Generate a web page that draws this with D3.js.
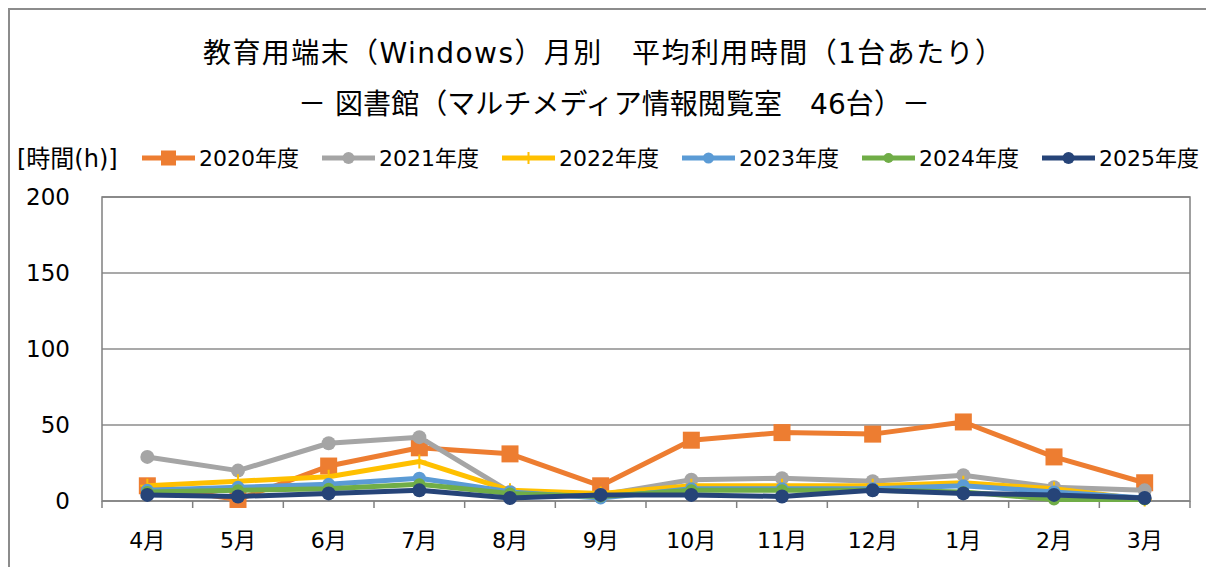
<!DOCTYPE html>
<html><head><meta charset="utf-8">
<script src="https://cdn.jsdelivr.net/npm/d3@7"></script>
<style>
html,body{margin:0;padding:0;background:#fff;}
svg{display:block;}
text{font-family:"DejaVu Sans","Noto Sans CJK JP",sans-serif;fill:#000;}
</style></head>
<body>
<script>
const months = ["4月","5月","6月","7月","8月","9月","10月","11月","12月","1月","2月","3月"];
const seriesNames = ["2020年度","2021年度","2022年度","2023年度","2024年度","2025年度"];
const v2020 = [10, 1, 23, 35, 31, 10, 40, 45, 44, 52, 29, 12];
const v2021 = [29, 20, 38, 42, 6, 4, 14, 15, 13, 17, 9, 7];
const v2022 = [10, 13, 16, 26, 7, 5, 10, 10, 10, 12, 8, 1];
const v2023 = [7, 9, 11, 15, 6, 2, 8, 8, 8, 10, 6, 2];
const v2024 = [6, 7, 8, 11, 5, 3, 7, 7, 7, 6, 1, 1];
const v2025 = [4, 3, 5, 7, 2, 4, 4, 3, 7, 5, 4, 2];
const yTicks = [0, 50, 100, 150, 200];
const titleLine1 = "教育用端末（Windows）月別　平均利用時間（1台あたり）";
const titleLine2 = "－ 図書館（マルチメディア情報閲覧室　46台）－";
const yUnit = "[時間(h)]";

const colors = ["#ED7D31","#A5A5A5","#FFC000","#5B9BD5","#70AD47","#264478"];
const markers = ["square","circle","plus","circle","circle","circle"];
const allValues = [v2020, v2021, v2022, v2023, v2024, v2025];

const W = 1206, H = 567;
const svg = d3.select("body").append("svg").attr("width", W).attr("height", H);

// outer frame
svg.append("rect").attr("x", 9).attr("y", 9).attr("width", W + 20).attr("height", H + 20)
  .attr("fill", "none").attr("stroke", "#8c8c8c").attr("stroke-width", 2);

const plot = {left: 102, right: 1190, top: 197, bottom: 501};
const x = d3.scaleBand().domain(months).range([plot.left, plot.right]).padding(0);
const y = d3.scaleLinear().domain([0, 200]).range([plot.bottom, plot.top]);

// gridlines
svg.append("g").selectAll("line").data(yTicks).join("line")
  .attr("x1", plot.left).attr("x2", plot.right)
  .attr("y1", d => y(d)).attr("y2", d => y(d))
  .attr("stroke", "#8c8c8c").attr("stroke-width", 1.5);

// plot border
svg.append("rect").attr("x", plot.left).attr("y", plot.top)
  .attr("width", plot.right - plot.left).attr("height", plot.bottom - plot.top)
  .attr("fill", "none").attr("stroke", "#808080").attr("stroke-width", 1.5);

// x ticks at category boundaries
const bounds = months.map(m => x(m)).concat([plot.right]);
svg.append("g").selectAll("line").data(bounds).join("line")
  .attr("x1", d => d).attr("x2", d => d)
  .attr("y1", plot.bottom).attr("y2", plot.bottom + 7)
  .attr("stroke", "#808080").attr("stroke-width", 1.5);

// y labels
svg.append("g").selectAll("text").data(yTicks).join("text")
  .attr("x", 70).attr("y", d => y(d)).attr("dy", "0.36em")
  .attr("text-anchor", "end").attr("font-size", 23).text(d => d);

// x labels
svg.append("g").selectAll("text").data(months).join("text")
  .attr("x", d => x(d) + x.bandwidth() / 2).attr("y", 540).attr("dy", "0.36em")
  .attr("text-anchor", "middle").attr("font-size", 22).text(d => d);

// titles
svg.append("text").attr("x", 203).attr("y", 53).attr("dy", "0.36em")
  .attr("font-size", 28).attr("textLength", 800).attr("lengthAdjust", "spacing").text(titleLine1);
svg.append("text").attr("x", 298).attr("y", 104).attr("dy", "0.36em")
  .attr("font-size", 28).attr("textLength", 632).attr("lengthAdjust", "spacing").text(titleLine2);

// unit label
svg.append("text").attr("x", 17).attr("y", 158).attr("dy", "0.36em")
  .attr("font-size", 24).text(yUnit);

function drawMarker(g, type, cx, cy, color, size) {
  if (type === "square") {
    g.append("rect").attr("x", cx - size / 2).attr("y", cy - size / 2)
      .attr("width", size).attr("height", size).attr("fill", color);
  } else if (type === "circle") {
    g.append("circle").attr("cx", cx).attr("cy", cy).attr("r", size / 2).attr("fill", color);
  } else if (type === "plus") {
    g.append("path").attr("d", `M${cx - size/2},${cy}H${cx + size/2}M${cx},${cy - size/2}V${cy + size/2}`)
      .attr("stroke", color).attr("stroke-width", 2);
  }
}
const markerSizes = [17, 14, 14, 13, 12, 14];

// series
const line = d3.line().x((d, i) => x(months[i]) + x.bandwidth() / 2).y(d => y(d));
allValues.forEach((vals, si) => {
  const g = svg.append("g");
  g.append("path").datum(vals).attr("d", line).attr("fill", "none")
    .attr("stroke", colors[si]).attr("stroke-width", 5).attr("stroke-linejoin", "round");
  vals.forEach((v, i) => drawMarker(g, markers[si], x(months[i]) + x.bandwidth() / 2, y(v), colors[si], markerSizes[si]));
});

// legend
const legendX0 = 142, legendStep = 180, legendY = 158;
seriesNames.forEach((name, si) => {
  const g = svg.append("g").attr("transform", `translate(${legendX0 + si * legendStep},${legendY})`);
  g.append("line").attr("x1", 0).attr("x2", 53).attr("y1", 0).attr("y2", 0)
    .attr("stroke", colors[si]).attr("stroke-width", 5);
  drawMarker(g, markers[si], 26.5, 0, colors[si], markerSizes[si] - 2);
  g.append("text").attr("x", 57).attr("y", 0).attr("dy", "0.36em").attr("font-size", 22).text(name);
});
</script>
</body></html>
